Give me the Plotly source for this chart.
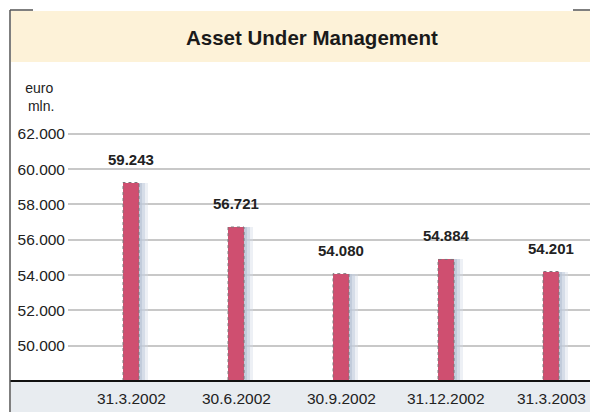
import plotly.graph_objects as go

categories = ["31.3.2002", "30.6.2002", "30.9.2002", "31.12.2002", "31.3.2003"]
values = [59243, 56721, 54080, 54884, 54201]
labels = ["59.243", "56.721", "54.080", "54.884", "54.201"]
tick_vals = [50000, 52000, 54000, 56000, 58000, 60000, 62000]
tick_text = ["50.000", "52.000", "54.000", "56.000", "58.000", "60.000", "62.000"]

W, H = 590, 412
L, R, T, B = 68, 0, 125, 31
pw, ph = W - L - R, H - T - B

def px(x):
    return (x - L) / pw

def py(y):
    return (H - B - y) / ph

BW = 0.152
FONT = "Liberation Sans, Arial, sans-serif"

fig = go.Figure()
idx = list(range(len(categories)))
# shadows
for off, col in [(0.085, "rgba(210,218,229,0.4)"), (0.055, "rgba(195,206,220,0.55)"),
                 (0.03, "rgba(180,193,210,0.6)")]:
    fig.add_trace(go.Bar(x=idx, y=values, width=BW, offset=-BW / 2 + off,
                         marker=dict(color=col, line=dict(width=0)),
                         hoverinfo="skip", showlegend=False))
fig.add_trace(go.Bar(x=idx, y=values, width=BW, offset=-BW / 2,
                     marker=dict(color="#cf4f70", line=dict(width=0)),
                     showlegend=False))

shapes = []
for i, v in zip(idx, values):
    shapes.append(dict(type="rect", xref="x", yref="y", x0=i - BW / 2, x1=i + BW / 2,
                       y0=48000, y1=v, line=dict(color="#7d7479", width=1, dash="dot"),
                       layer="above"))
shapes.append(dict(type="rect", xref="paper", yref="paper", x0=px(11), x1=px(590),
                   y0=py(62), y1=py(11), fillcolor="#fdf2d8", line=dict(width=0), layer="below"))
shapes.append(dict(type="rect", xref="paper", yref="paper", x0=px(11), x1=px(590),
                   y0=py(412), y1=py(381), fillcolor="#e8ecf0", line=dict(width=0), layer="below"))
shapes.append(dict(type="line", xref="paper", yref="paper", x0=px(10), x1=px(590),
                   y0=py(381), y1=py(381), line=dict(color="#111111", width=2)))
shapes.append(dict(type="line", xref="paper", yref="paper", x0=px(10), x1=px(10),
                   y0=py(10), y1=py(412), line=dict(color="#555555", width=1.5)))
shapes.append(dict(type="line", xref="paper", yref="paper", x0=px(10), x1=px(33),
                   y0=py(10), y1=py(10), line=dict(color="#555555", width=1.5)))
shapes.append(dict(type="line", xref="paper", yref="paper", x0=px(573), x1=px(590),
                   y0=py(10), y1=py(10), line=dict(color="#555555", width=1.5)))

annotations = []
for i, v, t in zip(idx, values, labels):
    annotations.append(dict(x=i, y=v, text="<b>" + t + "</b>", showarrow=False, yanchor="bottom",
                            yshift=13, font=dict(family=FONT, size=15, color="#222222")))
annotations.append(dict(xref="paper", yref="paper", x=px(312), y=py(37),
                        text="<b>Asset Under Management</b>", showarrow=False,
                        xanchor="center", yanchor="middle",
                        font=dict(family=FONT, size=20.5, color="#1a1a1a")))
annotations.append(dict(xref="paper", yref="paper", x=px(39), y=py(97),
                        text="euro<br> mln.", showarrow=False, align="center",
                        xanchor="center", yanchor="middle",
                        font=dict(family=FONT, size=14, color="#222222")))
for i, c in zip(idx, categories):
    annotations.append(dict(x=i, xref="x", yref="paper", y=py(398), text=c,
                            showarrow=False, yanchor="middle",
                            font=dict(family=FONT, size=15.5, color="#222222")))

fig.update_layout(
    width=W, height=H,
    margin=dict(l=L, r=R, t=T, b=B, pad=0),
    paper_bgcolor="white", plot_bgcolor="white",
    barmode="overlay", bargap=0,
    shapes=shapes, annotations=annotations,
    xaxis=dict(range=[-0.6, 4.371], showticklabels=False, showgrid=False,
               zeroline=False, showline=False, ticks="", fixedrange=True),
    yaxis=dict(range=[48000, 62500], tickvals=tick_vals, ticktext=tick_text,
               showgrid=True, gridcolor="#c8c8c8", gridwidth=1.5, zeroline=False,
               showline=False, ticks="", ticklabelstandoff=2,
               tickfont=dict(family=FONT, size=15.5, color="#222222")),
    showlegend=False,
)
fig.write_html("out.html", config={"displayModeBar": False},
               post_script="document.body.style.margin='0';")
